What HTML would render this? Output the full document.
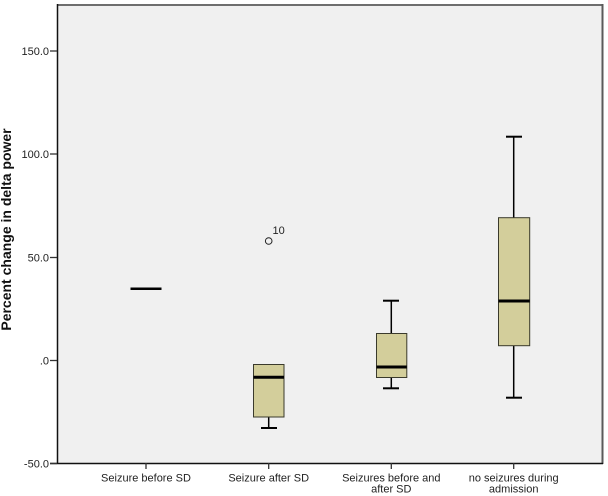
<!DOCTYPE html>
<html><head><meta charset="utf-8"><style>
html,body{margin:0;padding:0;background:#fff;}
svg{display:block;}
text{font-family:"Liberation Sans",Arial,sans-serif;fill:#222;}
</style></head><body>
<svg width="608" height="496" viewBox="0 0 608 496" xmlns="http://www.w3.org/2000/svg">
<rect x="0" y="0" width="608" height="496" fill="#fff"/>
<rect x="57.5" y="5" width="545" height="458.5" fill="#f0f0f0"/>
<!-- borders -->
<line x1="57" y1="5" x2="603" y2="5" stroke="#6e6e6e" stroke-width="2"/>
<line x1="602.5" y1="4" x2="602.5" y2="464" stroke="#5a5a5a" stroke-width="2"/>
<line x1="57.5" y1="4" x2="57.5" y2="464" stroke="#111" stroke-width="1.5"/>
<line x1="50" y1="463.5" x2="603" y2="463.5" stroke="#111" stroke-width="1.5"/>
<!-- y ticks -->
<g stroke="#333" stroke-width="1.3">
<line x1="50" y1="51" x2="57" y2="51"/>
<line x1="50" y1="154" x2="57" y2="154"/>
<line x1="50" y1="257.5" x2="57" y2="257.5"/>
<line x1="50" y1="360.5" x2="57" y2="360.5"/>
<line x1="50" y1="463.5" x2="57" y2="463.5"/>
</g>
<g font-size="11" text-anchor="end">
<text x="49" y="55">150.0</text>
<text x="49" y="158">100.0</text>
<text x="49" y="261.5">50.0</text>
<text x="49" y="364.5">.0</text>
<text x="49" y="467.5">-50.0</text>
</g>
<!-- x ticks -->
<g stroke="#333" stroke-width="1.3">
<line x1="146" y1="463" x2="146" y2="469"/>
<line x1="268.7" y1="463" x2="268.7" y2="469"/>
<line x1="391.3" y1="463" x2="391.3" y2="469"/>
<line x1="513.7" y1="463" x2="513.7" y2="469"/>
</g>
<g font-size="11" text-anchor="middle">
<text x="146" y="481.5">Seizure before SD</text>
<text x="268.7" y="481.5">Seizure after SD</text>
<text x="391.3" y="481.5">Seizures before and</text>
<text x="391.3" y="492.3">after SD</text>
<text x="513.7" y="481.5">no seizures during</text>
<text x="513.7" y="492.3">admission</text>
</g>
<!-- y title -->
<text transform="translate(11,229.5) rotate(-90)" font-size="14" font-weight="bold" text-anchor="middle" style="fill:#111">Percent change in delta power</text>

<!-- Group 1 -->
<line x1="130.5" y1="288.7" x2="161.5" y2="288.7" stroke="#000" stroke-width="2.5"/>

<!-- Group 2 -->
<line x1="268.7" y1="417" x2="268.7" y2="428" stroke="#000" stroke-width="1.5"/>
<line x1="261" y1="428" x2="277" y2="428" stroke="#000" stroke-width="2"/>
<rect x="253.5" y="364.5" width="30.5" height="52.5" fill="#d3ce9b" stroke="#3a3a2c" stroke-width="1"/>
<line x1="253.5" y1="377.3" x2="284" y2="377.3" stroke="#000" stroke-width="3"/>
<circle cx="268.7" cy="241" r="3.3" fill="none" stroke="#222" stroke-width="1"/>
<text x="272.5" y="234" font-size="11">10</text>

<!-- Group 3 -->
<line x1="391.3" y1="300.7" x2="391.3" y2="333.5" stroke="#000" stroke-width="1.5"/>
<line x1="383" y1="300.7" x2="399" y2="300.7" stroke="#000" stroke-width="2"/>
<line x1="391.3" y1="377.5" x2="391.3" y2="388.3" stroke="#000" stroke-width="1.5"/>
<line x1="383" y1="388.3" x2="399" y2="388.3" stroke="#000" stroke-width="2"/>
<rect x="376.5" y="333.5" width="30.3" height="44" fill="#d3ce9b" stroke="#3a3a2c" stroke-width="1"/>
<line x1="376.5" y1="367" x2="406.8" y2="367" stroke="#000" stroke-width="3"/>

<!-- Group 4 -->
<line x1="513.7" y1="136.7" x2="513.7" y2="217.7" stroke="#000" stroke-width="1.5"/>
<line x1="506" y1="136.7" x2="522" y2="136.7" stroke="#000" stroke-width="2"/>
<line x1="513.7" y1="345.7" x2="513.7" y2="397.7" stroke="#000" stroke-width="1.5"/>
<line x1="506" y1="397.7" x2="522" y2="397.7" stroke="#000" stroke-width="2"/>
<rect x="498.5" y="217.7" width="31.2" height="128" fill="#d3ce9b" stroke="#3a3a2c" stroke-width="1"/>
<line x1="498.5" y1="301" x2="529.7" y2="301" stroke="#000" stroke-width="3"/>
</svg>
</body></html>
